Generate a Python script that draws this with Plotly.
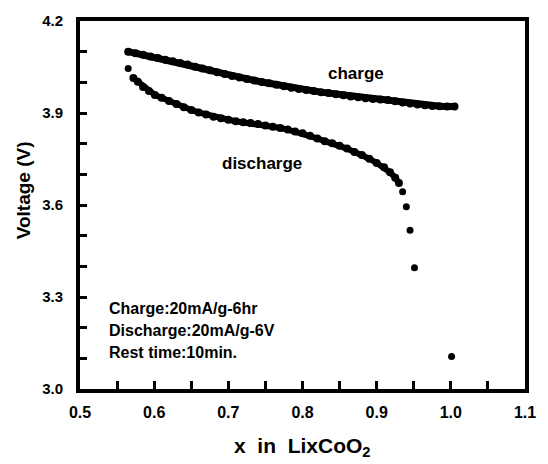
import plotly.graph_objects as go

# Charge curve (x in LixCoO2, Voltage V)
charge_x = [0.565, 0.575, 0.585, 0.595, 0.605, 0.615, 0.625, 0.635, 0.645, 0.655,
            0.665, 0.675, 0.685, 0.695, 0.705, 0.715, 0.725, 0.735, 0.745, 0.755,
            0.765, 0.775, 0.785, 0.795, 0.805, 0.815, 0.825, 0.835, 0.845, 0.855,
            0.865, 0.875, 0.885, 0.895, 0.905, 0.915, 0.925, 0.935, 0.945, 0.955,
            0.965, 0.975, 0.985, 0.995, 1.005]
charge_v = [4.100, 4.095, 4.090, 4.084, 4.079, 4.074, 4.069, 4.063, 4.058, 4.051,
            4.045, 4.039, 4.033, 4.027, 4.021, 4.016, 4.011, 4.006, 4.001, 3.997,
            3.992, 3.987, 3.982, 3.978, 3.975, 3.972, 3.968, 3.965, 3.961, 3.958,
            3.954, 3.951, 3.948, 3.946, 3.944, 3.942, 3.938, 3.934, 3.931, 3.928,
            3.925, 3.923, 3.922, 3.921, 3.921]

# Discharge curve: continuous (densely sampled) part
discharge_x = [0.572, 0.578, 0.585, 0.593, 0.601, 0.610, 0.620, 0.630, 0.640,
               0.650, 0.660, 0.670, 0.680, 0.690, 0.700, 0.710, 0.720, 0.730, 0.740,
               0.750, 0.760, 0.770, 0.780, 0.790, 0.800, 0.810, 0.820, 0.830, 0.840,
               0.850, 0.860, 0.870, 0.880, 0.890, 0.900, 0.910, 0.918, 0.925, 0.930]
discharge_v = [4.014, 4.002, 3.985, 3.972, 3.959, 3.950, 3.939, 3.929, 3.919,
               3.910, 3.902, 3.895, 3.888, 3.883, 3.878, 3.873, 3.870, 3.867, 3.864,
               3.859, 3.855, 3.851, 3.846, 3.840, 3.834, 3.826, 3.817, 3.808, 3.801,
               3.793, 3.784, 3.773, 3.763, 3.751, 3.737, 3.723, 3.707, 3.689, 3.672]
# Discharge curve: isolated points (first point and steep tail)
discharge_sparse_x = [0.565, 0.935, 0.940, 0.945, 0.951, 1.001]
discharge_sparse_v = [4.045, 3.643, 3.594, 3.518, 3.395, 3.106]

x_ticks = [0.5, 0.6, 0.7, 0.8, 0.9, 1.0, 1.1]
x_tick_labels = ["0.5", "0.6", "0.7", "0.8", "0.9", "1.0", "1.1"]
x_minor_ticks = [0.55, 0.65, 0.75, 0.85, 0.95, 1.05]
y_ticks = [3.0, 3.3, 3.6, 3.9, 4.2]
y_tick_labels = ["3.0", "3.3", "3.6", "3.9", "4.2"]
y_minor_ticks = [3.1, 3.2, 3.4, 3.5, 3.7, 3.8, 4.0, 4.1]

conditions = ["Charge:20mA/g-6hr", "Discharge:20mA/g-6V", "Rest time:10min."]
condition_y = [3.263, 3.190, 3.120]

FONT = "Liberation Sans"

fig = go.Figure()
fig.add_trace(go.Scatter(x=charge_x, y=charge_v, mode="lines+markers",
                         line=dict(color="black", width=7),
                         marker=dict(color="black", size=8), name="charge",
                         showlegend=False))
fig.add_trace(go.Scatter(x=discharge_x, y=discharge_v, mode="lines+markers",
                         line=dict(color="black", width=6),
                         marker=dict(color="black", size=8), name="discharge",
                         showlegend=False))
fig.add_trace(go.Scatter(x=discharge_sparse_x, y=discharge_sparse_v, mode="markers",
                         marker=dict(color="black", size=7), name="discharge",
                         showlegend=False))

fig.add_annotation(x=0.872, y=4.03, text="charge", showarrow=False,
                   font=dict(family=FONT, size=17, color="black", weight="bold"))
fig.add_annotation(x=0.746, y=3.735, text="discharge", showarrow=False,
                   font=dict(family=FONT, size=17, color="black", weight="bold"))
for txt, yy in zip(conditions, condition_y):
    fig.add_annotation(x=0.537, y=yy, text=txt, showarrow=False, xanchor="left",
                       font=dict(family=FONT, size=16, color="black", weight="bold"))

# Axis titles
fig.add_annotation(xref="paper", yref="paper", x=-0.128, y=0.54,
                   xanchor="center", yanchor="middle",
                   text="Voltage (V)", textangle=-90, showarrow=False,
                   font=dict(family=FONT, size=19, color="black", weight="bold"))
fig.add_annotation(xref="paper", yref="paper", x=0.5, y=-0.158,
                   xanchor="center", yanchor="middle",
                   text="x  in  LixCoO<sub>2</sub>", showarrow=False,
                   font=dict(family=FONT, size=21, color="black", weight="bold"))

fig.update_layout(
    width=548, height=464,
    margin=dict(l=80, r=21, t=12, b=75),
    paper_bgcolor="white", plot_bgcolor="white",
    font=dict(family=FONT, color="black"),
)
fig.update_xaxes(
    range=[0.5, 1.1], tickmode="array", tickvals=x_ticks, ticktext=x_tick_labels,
    showgrid=False, zeroline=False,
    showline=True, linecolor="black", linewidth=4, mirror=True,
    ticks="inside", ticklen=8, tickwidth=3, tickcolor="black",
    minor=dict(tickmode="array", tickvals=x_minor_ticks, ticks="inside",
               ticklen=8, tickwidth=3, tickcolor="black", showgrid=False),
    tickfont=dict(family=FONT, size=16, color="black", weight="bold"),
    ticklabelstandoff=6,
)
fig.update_yaxes(
    range=[3.0, 4.2], tickmode="array", tickvals=y_ticks, ticktext=y_tick_labels,
    showgrid=False, zeroline=False,
    showline=True, linecolor="black", linewidth=4, mirror=True,
    ticks="inside", ticklen=7, tickwidth=3, tickcolor="black",
    minor=dict(tickmode="array", tickvals=y_minor_ticks, ticks="inside",
               ticklen=7, tickwidth=3, tickcolor="black", showgrid=False),
    tickfont=dict(family=FONT, size=15, color="black", weight="bold"),
    ticklabelstandoff=10,
)

fig.write_html("out.html")
